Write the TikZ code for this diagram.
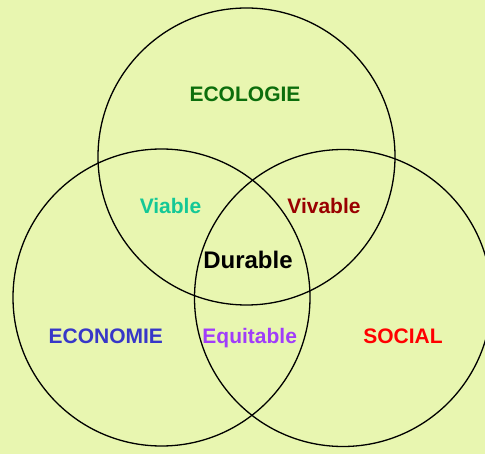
\documentclass[tikz,border=0pt]{standalone}
\usepackage{fontspec}
\setmainfont{Liberation Sans}
\definecolor{bg}{RGB}{232,246,176}
\definecolor{ecol}{RGB}{12,110,12}
\definecolor{viab}{RGB}{20,200,150}
\definecolor{viva}{RGB}{153,0,0}
\definecolor{econ}{RGB}{55,55,200}
\definecolor{equi}{RGB}{160,60,250}
\definecolor{soc}{RGB}{255,0,0}
\begin{document}
\begin{tikzpicture}[x=1pt,y=-1pt,
  ring/.style={draw=black,line width=1.3pt},
  lbl/.style={anchor=base,inner sep=0pt,font=\fontsize{21}{24}\selectfont\bfseries}]
\fill[bg] (0,0) rectangle (485,454);
\useasboundingbox (0,0) rectangle (485,454);
\node[ring,circle,minimum size=297pt,inner sep=0pt] (eco) at (246.5,156.5) {};
\node[ring,circle,minimum size=297pt,inner sep=0pt] (econ) at (161.5,297.5) {};
\node[ring,circle,minimum size=297pt,inner sep=0pt] (soc) at (343,298) {};
\node[lbl,text=ecol] (tecol) at (245,101.3) {ECOLOGIE};
\node[lbl,text=viab] (tviab) at (170.5,213.3) {Viable};
\node[lbl,text=viva] (tviva) at (324,213.3) {Vivable};
\node[lbl,text=black,font=\fontsize{24}{28}\selectfont\bfseries] (tdur) at (248,268.3) {Durable};
\node[lbl,text=econ] (tecon) at (105.8,343.7) {ECONOMIE};
\node[lbl,text=equi] (tequi) at (249.7,343.7) {Equitable};
\node[lbl,text=soc] (tsoc) at (403,343.7) {SOCIAL};
\end{tikzpicture}
\end{document}
